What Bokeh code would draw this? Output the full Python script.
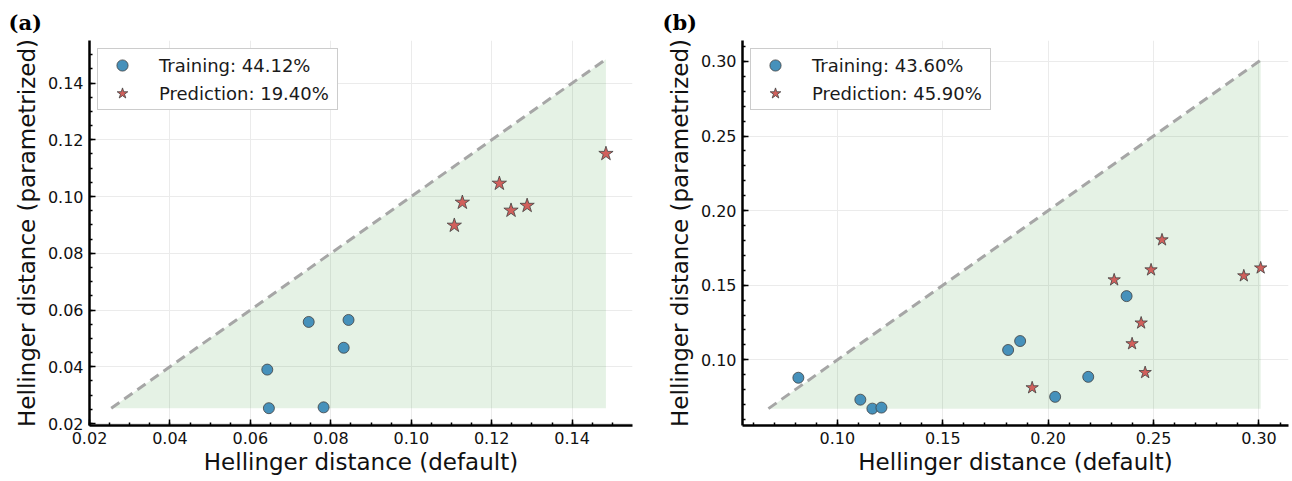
from bokeh.plotting import figure
from bokeh.layouts import row
from bokeh.models import (Legend, LegendItem, SingleIntervalTicker,
                          NumeralTickFormatter, Range1d, Title)
from bokeh.embed import file_html
from bokeh.resources import INLINE

# ---------------- data ----------------
a_train_x = [0.0642, 0.0646, 0.0745, 0.0782, 0.0832, 0.0844]
a_train_y = [0.0390, 0.0254, 0.0558, 0.0257, 0.0467, 0.0565]
a_pred_x = [0.1107, 0.1127, 0.1219, 0.1248, 0.1288, 0.1484]
a_pred_y = [0.0898, 0.0979, 0.1046, 0.0951, 0.0968, 0.1151]
a_labels = ["Training: 44.12%", "Prediction: 19.40%"]
a_xlim = (0.02, 0.155)
a_ylim = (0.0193, 0.155)
a_tick_step = 0.02

b_train_x = [0.0815, 0.1109, 0.1166, 0.1209, 0.1810, 0.1867, 0.2033, 0.2190, 0.2372]
b_train_y = [0.0880, 0.0733, 0.0673, 0.0680, 0.1066, 0.1126, 0.0752, 0.0886, 0.1427]
b_pred_x = [0.1924, 0.2313, 0.2398, 0.2441, 0.2460, 0.2488, 0.2540, 0.2928, 0.3008]
b_pred_y = [0.0813, 0.1536, 0.1108, 0.1247, 0.0915, 0.1603, 0.1804, 0.1563, 0.1616]
b_labels = ["Training: 43.60%", "Prediction: 45.90%"]
b_xlim = (0.055, 0.314)
b_ylim = (0.056, 0.314)
b_tick_step = 0.05

x_label = "Hellinger distance (default)"
y_label = "Hellinger distance (parametrized)"

BLUE = "#4691bb"
RED = "#d1605c"
EDGE = "#404040"


def make_panel(tag, tx, ty, px, py, labels, xlim, ylim, step, nminor,
               borders, star_size, title_offset):
    left, right, top, bottom = borders
    p = figure(width=646, height=481, output_backend="svg", toolbar_location=None,
               x_range=Range1d(*xlim), y_range=Range1d(*ylim),
               min_border_left=left, min_border_right=right,
               min_border_top=top, min_border_bottom=bottom)
    p.outline_line_color = None
    p.background_fill_color = "white"
    p.border_fill_color = "white"

    lo = min(min(tx), min(ty), min(px), min(py))
    hi = max(max(tx), max(ty), max(px), max(py))
    p.patch([lo, hi, hi], [lo, hi, lo], fill_color="green", fill_alpha=0.1,
            line_color=None)
    p.line([lo, hi], [lo, hi], line_color="#a6a6a6", line_width=3,
           line_dash="10 6")
    r1 = p.scatter(tx, ty, marker="circle", size=11, fill_color=BLUE,
                   line_color=EDGE, line_width=0.8)
    r2 = p.scatter(px, py, marker="star", size=star_size, fill_color=RED,
                   line_color=EDGE, line_width=0.8)

    legend = Legend(items=[LegendItem(label=labels[0], renderers=[r1]),
                           LegendItem(label=labels[1], renderers=[r2])],
                    location="top_left", margin=8, padding=2, spacing=0,
                    glyph_width=44, glyph_height=28, label_height=28,
                    label_width=176, label_standoff=15,
                    label_text_font="DejaVu Sans", label_text_font_size="18px",
                    label_text_color="#1a1a1a",
                    border_line_color="#9a9a9a", border_line_width=1,
                    background_fill_color="white", background_fill_alpha=1)
    p.add_layout(legend)

    for ax, lab in ((p.xaxis[0], x_label), (p.yaxis[0], y_label)):
        ax.ticker = SingleIntervalTicker(interval=step, num_minor_ticks=nminor)
        ax.formatter = NumeralTickFormatter(format="0.00")
        ax.axis_label = lab
        ax.axis_label_text_font = "DejaVu Sans"
        ax.axis_label_text_font_size = "23px"
        ax.axis_label_text_font_style = "normal"
        ax.axis_label_text_color = "#111111"
        ax.major_label_text_font = "DejaVu Sans"
        ax.major_label_text_font_size = "16px"
        ax.major_label_text_color = "#111111"
        ax.axis_line_color = "black"
        ax.axis_line_width = 2.5
        ax.major_tick_in = 6
        ax.major_tick_out = 0
        ax.minor_tick_in = 3
        ax.minor_tick_out = 0
        ax.major_tick_line_width = 1.5
        ax.minor_tick_line_width = 1.5
        ax.major_tick_line_color = "black"
        ax.minor_tick_line_color = "black"
    p.xaxis[0].major_label_standoff = 6
    p.xaxis[0].axis_label_standoff = 2
    p.yaxis[0].major_label_standoff = 6
    p.yaxis[0].axis_label_standoff = 5

    for g in (p.xgrid[0], p.ygrid[0]):
        g.grid_line_color = "#ebebeb"
        g.grid_line_width = 1

    p.title = Title(text=tag, align="left", offset=title_offset,
                    text_font="DejaVu Serif", text_font_style="bold",
                    text_font_size="21px", text_color="black", standoff=12)
    return p


p1 = make_panel("(a)", a_train_x, a_train_y, a_pred_x, a_pred_y, a_labels,
                a_xlim, a_ylim, a_tick_step, 4, (89, 14, 40, 56), 15, -81)
p2 = make_panel("(b)", b_train_x, b_train_y, b_pred_x, b_pred_y, b_labels,
                b_xlim, b_ylim, b_tick_step, 5, (96, 4, 40, 55), 13, -80)

layout = row(p1, p2)
open("out.html", "w").write(file_html(layout, INLINE))
